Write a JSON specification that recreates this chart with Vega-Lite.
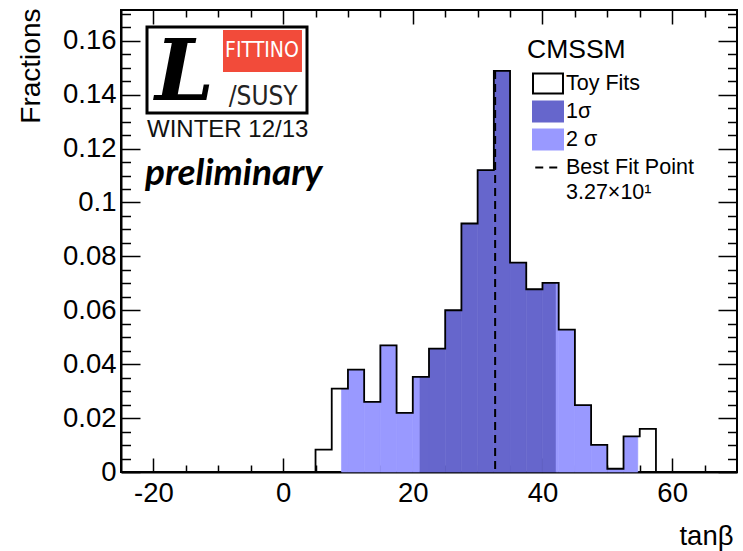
{
  "$schema": "https://vega.github.io/schema/vega-lite/v6.json",
  "width": 616,
  "height": 462,
  "autosize": {"type": "none"},
  "padding": {"left": 121, "top": 10, "right": 6, "bottom": 79},
  "background": "white",
  "config": {
    "font": "Liberation Sans",
    "view": {"stroke": "black", "strokeWidth": 2},
    "axis": {
      "labelColor": "black", "titleColor": "black", "tickColor": "black", "domainColor": "black",
      "grid": false, "zindex": 1, "labelFont": "Liberation Sans", "titleFont": "Liberation Sans",
      "titleFontWeight": "normal", "labelFlush": false, "labelOverlap": false
    }
  },
  "datasets": {
    "bands": [
      {"lo": 9, "hi": 10, "frac": 0.0309, "level": "2 σ"},
      {"lo": 10, "hi": 12.5, "frac": 0.038, "level": "2 σ"},
      {"lo": 12.5, "hi": 15, "frac": 0.026, "level": "2 σ"},
      {"lo": 15, "hi": 17.5, "frac": 0.047, "level": "2 σ"},
      {"lo": 17.5, "hi": 20, "frac": 0.0219, "level": "2 σ"},
      {"lo": 20, "hi": 21.1, "frac": 0.0353, "level": "2 σ"},
      {"lo": 21.1, "hi": 22.5, "frac": 0.0353, "level": "1σ"},
      {"lo": 22.5, "hi": 25, "frac": 0.0458, "level": "1σ"},
      {"lo": 25, "hi": 27.5, "frac": 0.06, "level": "1σ"},
      {"lo": 27.5, "hi": 30, "frac": 0.0922, "level": "1σ"},
      {"lo": 30, "hi": 32.5, "frac": 0.112, "level": "1σ"},
      {"lo": 32.5, "hi": 35, "frac": 0.1488, "level": "1σ"},
      {"lo": 35, "hi": 37.5, "frac": 0.0777, "level": "1σ"},
      {"lo": 37.5, "hi": 40, "frac": 0.0678, "level": "1σ"},
      {"lo": 40, "hi": 42.1, "frac": 0.0702, "level": "1σ"},
      {"lo": 42.1, "hi": 42.5, "frac": 0.0702, "level": "2 σ"},
      {"lo": 42.5, "hi": 45, "frac": 0.0528, "level": "2 σ"},
      {"lo": 45, "hi": 47.5, "frac": 0.0248, "level": "2 σ"},
      {"lo": 47.5, "hi": 50, "frac": 0.0101, "level": "2 σ"},
      {"lo": 50, "hi": 52.5, "frac": 0.0012, "level": "2 σ"},
      {"lo": 52.5, "hi": 54.7, "frac": 0.0132, "level": "2 σ"}
    ],
    "outline": [
      {"i": 0, "edge": 5, "frac": 0},
      {"i": 1, "edge": 5, "frac": 0.0083},
      {"i": 2, "edge": 7.5, "frac": 0.0309},
      {"i": 3, "edge": 10, "frac": 0.038},
      {"i": 4, "edge": 12.5, "frac": 0.026},
      {"i": 5, "edge": 15, "frac": 0.047},
      {"i": 6, "edge": 17.5, "frac": 0.0219},
      {"i": 7, "edge": 20, "frac": 0.0353},
      {"i": 8, "edge": 22.5, "frac": 0.0458},
      {"i": 9, "edge": 25, "frac": 0.06},
      {"i": 10, "edge": 27.5, "frac": 0.0922},
      {"i": 11, "edge": 30, "frac": 0.112},
      {"i": 12, "edge": 32.5, "frac": 0.1488},
      {"i": 13, "edge": 35, "frac": 0.0777},
      {"i": 14, "edge": 37.5, "frac": 0.0678},
      {"i": 15, "edge": 40, "frac": 0.0702},
      {"i": 16, "edge": 42.5, "frac": 0.0528},
      {"i": 17, "edge": 45, "frac": 0.0248},
      {"i": 18, "edge": 47.5, "frac": 0.0101},
      {"i": 19, "edge": 50, "frac": 0.0012},
      {"i": 20, "edge": 52.5, "frac": 0.0132},
      {"i": 21, "edge": 55, "frac": 0.016},
      {"i": 22, "edge": 57.5, "frac": 0}
    ],
    "bestfit": [{"best": 32.7, "top": 0.1488}],
    "one": [{}]
  },
  "resolve": {"axis": {"x": "independent", "y": "independent"}},
  "layer": [
    {
      "data": {"name": "bands"},
      "mark": {"type": "rect", "strokeWidth": 0.6},
      "encoding": {
        "x": {"field": "lo", "type": "quantitative", "scale": {"domain": [-25, 70], "nice": false, "zero": false},
          "axis": {"orient": "bottom", "values": [-20, 0, 20, 40, 60], "ticks": false, "domain": true, "domainWidth": 2,
            "labelFontSize": 27.5, "labelPadding": 7, "labelExpr": "'' + datum.value",
            "title": "tanβ", "titleFontSize": 27.5, "titleAnchor": "end", "titleAlign": "right",
            "titleX": 612, "titleY": 72, "titleBaseline": "alphabetic"}},
        "x2": {"field": "hi"},
        "y": {"field": "frac", "type": "quantitative", "scale": {"domain": [0, 0.1714], "nice": false},
          "axis": {"orient": "left", "values": [0, 0.02, 0.04, 0.06, 0.08, 0.1, 0.12, 0.14, 0.16], "ticks": false, "domain": true, "domainWidth": 2,
            "labelFontSize": 27.5, "labelPadding": 5, "labelExpr": "'' + datum.value",
            "title": "Fractions", "titleFontSize": 28, "titleAngle": -90, "titleAlign": "right",
            "titleBaseline": "alphabetic", "titleX": -82, "titleY": -2}},
        "y2": {"datum": 0},
        "stroke": {"field": "level", "type": "nominal",
          "scale": {"domain": ["Toy Fits", "1σ", "2 σ", "Best Fit Point", "3.27×10¹"],
                    "range": ["black", "#6666cc", "#9999ff", "black", "transparent"]},
          "legend": null},
        "fill": {"field": "level", "type": "nominal",
          "scale": {"domain": ["Toy Fits", "1σ", "2 σ", "Best Fit Point", "3.27×10¹"],
                    "range": ["white", "#6666cc", "#9999ff", "white", "transparent"]},
          "legend": {
            "orient": "none", "legendX": 406, "legendY": 27, "padding": 0,
            "title": "CMSSM", "titleFontSize": 26.5, "titleFontWeight": "normal", "titleColor": "black",
            "titleFont": "Liberation Sans", "titlePadding": 6,
            "symbolSize": 650, "symbolType": "M-1.176,-0.784H1.176V0.784H-1.176Z", "symbolOffset": 7, "symbolStrokeWidth": 2,
            "labelFontSize": 21.5, "labelFont": "Liberation Sans", "labelColor": "black", "labelOffset": 4,
            "rowPadding": 0, "labelLimit": 300,
            "encoding": {
              "symbols": {
                "shape": {"condition": {"test": "datum.value === 'Best Fit Point'", "value": "stroke"}, "value": "M-1.176,-0.784H1.176V0.784H-1.176Z"},
                "stroke": {"condition": [{"test": "datum.value === 'Toy Fits'", "value": "black"}, {"test": "datum.value === 'Best Fit Point'", "value": "black"}], "value": "transparent"},
                "strokeDash": {"condition": {"test": "datum.value === 'Best Fit Point'", "value": [8, 6]}, "value": [1, 0]},
                "strokeWidth": {"value": 2}
              }
            }
          }}
      }
    },
    {
      "data": {"name": "outline"},
      "mark": {"type": "line", "interpolate": "step-after", "color": "black", "strokeWidth": 1.8},
      "encoding": {
        "x": {"field": "edge", "type": "quantitative", "scale": {"domain": [-25, 70], "nice": false, "zero": false},
          "axis": {"orient": "bottom", "values": [-20, 0, 20, 40, 60], "labels": false,
            "ticks": true, "tickColor": "black", "offset": -14, "tickSize": 14, "tickWidth": 1.5,
            "domain": false, "title": null}},
        "y": {"field": "frac", "type": "quantitative", "scale": {"domain": [0, 0.1714], "nice": false},
          "axis": {"orient": "left", "values": [0, 0.02, 0.04, 0.06, 0.08, 0.1, 0.12, 0.14, 0.16], "labels": false,
            "ticks": true, "tickColor": "black", "offset": -19, "tickSize": 19, "tickWidth": 1.5, "domain": false, "title": null}},
        "order": {"field": "i", "type": "quantitative"}
      }
    },
    {
      "data": {"name": "bestfit"},
      "mark": {"type": "rule", "strokeDash": [8, 5], "strokeWidth": 2, "color": "black"},
      "encoding": {
        "x": {"field": "best", "type": "quantitative", "scale": {"domain": [-25, 70], "nice": false, "zero": false},
          "axis": {"orient": "bottom", "values": [-15, -10, -5, 5, 10, 15, 25, 30, 35, 45, 50, 55, 65], "labels": false,
            "ticks": true, "tickColor": "black", "offset": -7, "tickSize": 7, "tickWidth": 1.5, "domain": false, "title": null}},
        "y": {"field": "top", "type": "quantitative", "scale": {"domain": [0, 0.1714], "nice": false},
          "axis": {"orient": "left", "values": [0.005, 0.01, 0.015, 0.025, 0.03, 0.035, 0.045, 0.05, 0.055, 0.065, 0.07, 0.075, 0.085, 0.09, 0.095, 0.105, 0.11, 0.115, 0.125, 0.13, 0.135, 0.145, 0.15, 0.155, 0.165, 0.17],
            "labels": false, "ticks": true, "tickColor": "black", "offset": -9.5, "tickSize": 9.5, "tickWidth": 1.5, "domain": false, "title": null}},
        "y2": {"datum": 0}
      }
    },
    {
      "data": {"name": "one"},
      "mark": {"type": "rect", "fill": "white", "stroke": "black", "strokeWidth": 3},
      "encoding": {
        "x": {"datum": -20.99, "type": "quantitative", "scale": {"domain": [-25, 70], "nice": false, "zero": false},
          "axis": {"orient": "top", "values": [-20, 0, 20, 40, 60], "labels": false,
            "ticks": true, "tickColor": "black", "offset": -14, "tickSize": 14, "tickWidth": 1.5,
            "domain": false, "title": null}},
        "x2": {"datum": 3.685},
        "y": {"datum": 0.1651, "type": "quantitative", "scale": {"domain": [0, 0.1714], "nice": false},
          "axis": {"orient": "right", "values": [0, 0.02, 0.04, 0.06, 0.08, 0.1, 0.12, 0.14, 0.16], "labels": false,
            "ticks": true, "tickColor": "black", "offset": -19, "tickSize": 19, "tickWidth": 1.5, "domain": false, "title": null}},
        "y2": {"datum": 0.1332}
      }
    },
    {
      "data": {"name": "one"},
      "mark": {"type": "rect", "fill": "#f24b3a"},
      "encoding": {
        "x": {"datum": -9.27, "type": "quantitative", "scale": {"domain": [-25, 70], "nice": false, "zero": false},
          "axis": {"orient": "top", "values": [-15, -10, -5, 5, 10, 15, 25, 30, 35, 45, 50, 55, 65], "labels": false,
            "ticks": true, "tickColor": "black", "offset": -7, "tickSize": 7, "tickWidth": 1.5, "domain": false, "title": null}},
        "x2": {"datum": 2.91},
        "y": {"datum": 0.164, "type": "quantitative", "scale": {"domain": [0, 0.1714], "nice": false},
          "axis": {"orient": "right", "values": [0.005, 0.01, 0.015, 0.025, 0.03, 0.035, 0.045, 0.05, 0.055, 0.065, 0.07, 0.075, 0.085, 0.09, 0.095, 0.105, 0.11, 0.115, 0.125, 0.13, 0.135, 0.145, 0.15, 0.155, 0.165, 0.17],
            "labels": false, "ticks": true, "tickColor": "black", "offset": -9.5, "tickSize": 9.5, "tickWidth": 1.5, "domain": false, "title": null}},
        "y2": {"datum": 0.1484}
      }
    },
    {
      "data": {"name": "one"},
      "mark": {"type": "text", "text": "FITTINO", "font": "Liberation Sans Narrow, DejaVu Sans Condensed, sans-serif", "fontSize": 21, "fill": "white", "align": "center", "baseline": "middle"},
      "encoding": {"x": {"datum": -3.26, "type": "quantitative", "axis": null}, "y": {"datum": 0.1562, "type": "quantitative", "axis": null}}
    },
    {
      "data": {"name": "one"},
      "mark": {"type": "text", "text": "L", "font": "DejaVu Serif", "fontStyle": "italic", "fontWeight": "bold", "fontSize": 84, "fill": "black", "align": "left", "baseline": "alphabetic"},
      "encoding": {"x": {"datum": -19.76, "type": "quantitative", "axis": null}, "y": {"datum": 0.138, "type": "quantitative", "axis": null}}
    },
    {
      "data": {"name": "one"},
      "mark": {"type": "text", "text": "/SUSY", "font": "Liberation Sans Narrow, DejaVu Sans Condensed, sans-serif", "fontSize": 26, "fill": "#222222", "align": "left", "baseline": "alphabetic"},
      "encoding": {"x": {"datum": -8.4, "type": "quantitative", "axis": null}, "y": {"datum": 0.1362, "type": "quantitative", "axis": null}}
    },
    {
      "data": {"name": "one"},
      "mark": {"type": "text", "text": "WINTER 12/13", "font": "Liberation Sans", "fontSize": 24, "fill": "#111111", "align": "left", "baseline": "alphabetic"},
      "encoding": {"x": {"datum": -20.99, "type": "quantitative", "axis": null}, "y": {"datum": 0.1243, "type": "quantitative", "axis": null}}
    },
    {
      "data": {"name": "one"},
      "mark": {"type": "text", "text": "preliminary", "font": "Lato", "fontStyle": "italic", "fontWeight": "bold", "fontSize": 37, "fill": "black", "align": "left", "baseline": "alphabetic"},
      "encoding": {"x": {"datum": -21.3, "type": "quantitative", "axis": null}, "y": {"datum": 0.1065, "type": "quantitative", "axis": null}}
    }
  ]
}
